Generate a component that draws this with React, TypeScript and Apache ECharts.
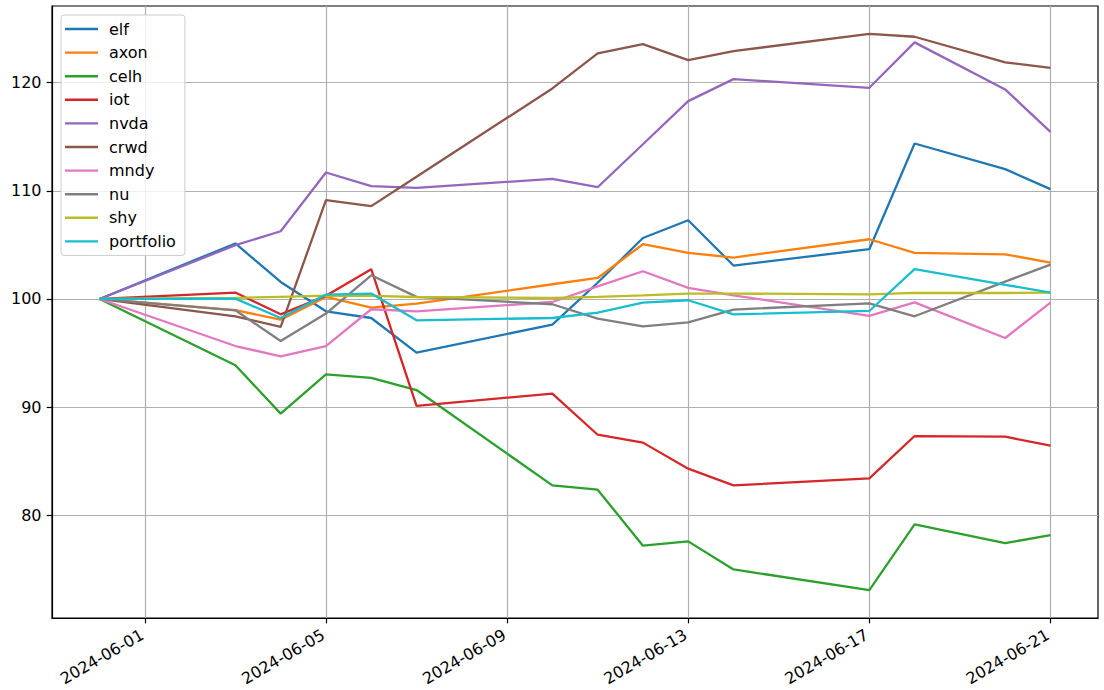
import React, { useEffect, useRef } from "react";
import * as echarts from "echarts";

const dates = [
  "2024-05-31", "2024-06-03", "2024-06-04", "2024-06-05", "2024-06-06", "2024-06-07",
  "2024-06-10", "2024-06-11", "2024-06-12", "2024-06-13", "2024-06-14",
  "2024-06-17", "2024-06-18", "2024-06-20", "2024-06-21",
];

const elf = [100, 105.13, 101.57, 98.86, 98.24, 95.04, 97.63, 101.5, 105.64, 107.28, 103.09, 104.6, 114.37, 112.0, 110.15];
const axon = [100, 98.96, 98.09, 100.19, 99.2, 99.57, 101.36, 101.94, 105.06, 104.26, 103.83, 105.52, 104.26, 104.13, 103.36];
const celh = [100, 93.87, 89.4, 93.03, 92.7, 91.58, 82.77, 82.37, 77.19, 77.59, 75.0, 73.08, 79.16, 77.43, 78.17];
const iot = [100, 100.59, 98.58, 100.3, 102.75, 90.12, 91.25, 87.45, 86.72, 84.31, 82.77, 83.41, 87.33, 87.27, 86.44];
const nvda = [100, 104.97, 106.26, 111.69, 110.43, 110.27, 111.1, 110.33, 114.3, 118.29, 120.32, 119.52, 123.72, 119.37, 115.45];
const crwd = [100, 98.4, 97.41, 109.13, 108.58, 111.3, 119.46, 122.7, 123.56, 122.08, 122.91, 124.51, 124.24, 121.87, 121.37];
const mndy = [100, 95.65, 94.7, 95.65, 99.05, 98.86, 99.72, 101.17, 102.56, 101.02, 100.34, 98.43, 99.69, 96.39, 99.67];
const nu = [100, 98.95, 96.11, 98.65, 102.19, 100.19, 99.51, 98.18, 97.47, 97.84, 99.02, 99.6, 98.4, 101.6, 103.18];
const shy = [100, 100.1, 100.2, 100.3, 100.28, 100.18, 100.09, 100.19, 100.34, 100.5, 100.5, 100.43, 100.56, 100.55, 100.59];
const portfolio = [100, 100.03, 98.24, 100.4, 100.5, 98.03, 98.24, 98.74, 99.67, 99.88, 98.58, 98.89, 102.75, 101.31, 100.59];

const seriesNames = ["elf", "axon", "celh", "iot", "nvda", "crwd", "mndy", "nu", "shy", "portfolio"];
const seriesValues = [elf, axon, celh, iot, nvda, crwd, mndy, nu, shy, portfolio];
const colors = ["#1f77b4", "#ff7f0e", "#2ca02c", "#d62728", "#9467bd", "#8c564b", "#e377c2", "#7f7f7f", "#bcbd22", "#17becf"];

const xTickLabels = ["2024-06-01", "2024-06-05", "2024-06-09", "2024-06-13", "2024-06-17", "2024-06-21"];
const yTickLabels = [80, 90, 100, 110, 120];

const FONT = "DejaVu Sans";
const FS = 16;

function toTime(s: string): number {
  const [y, m, d] = s.split("-").map(Number);
  return new Date(y, m - 1, d).getTime();
}
function pad(n: number) {
  return n < 10 ? "0" + n : "" + n;
}
function fmt(v: number): string {
  const d = new Date(v);
  return d.getFullYear() + "-" + pad(d.getMonth() + 1) + "-" + pad(d.getDate());
}

export default function App() {
  const ref = useRef<HTMLDivElement>(null);
  useEffect(() => {
    if (!ref.current) return;
    const chart = echarts.init(ref.current, undefined, { renderer: "svg" });
    const times = dates.map(toTime);
    const tMin = times[0];
    const tMax = times[times.length - 1];
    const tSpan = tMax - tMin;
    const all = seriesValues.flat();
    const vMin = Math.min(...all);
    const vMax = Math.max(...all);
    const vSpan = vMax - vMin;
    const xTicks = xTickLabels.map(toTime);

    chart.setOption({
      animation: false,
      backgroundColor: "#ffffff",
      textStyle: { fontFamily: FONT },
      grid: {
        left: 52,
        right: 6,
        top: 6,
        bottom: 72,
        show: true,
        borderColor: "#000000",
        borderWidth: 1.2,
        backgroundColor: "transparent",
      },
      legend: {
        orient: "vertical",
        left: 61,
        top: 15,
        padding: [5, 9, 5, 4],
        itemGap: 5.6,
        itemWidth: 33,
        itemHeight: 2.4,
        icon: "rect",
        backgroundColor: "rgba(255,255,255,0.8)",
        borderColor: "#cccccc",
        borderWidth: 1,
        borderRadius: 3,
        textStyle: {
          fontFamily: FONT,
          fontSize: FS,
          color: "#000000",
          lineHeight: 18,
          padding: [0, 0, 0, 6],
        },
        data: seriesNames,
      },
      xAxis: {
        type: "value",
        min: tMin - 0.05 * tSpan,
        max: tMax + 0.05 * tSpan,
        axisLine: { show: true, onZero: false, lineStyle: { color: "#000000", width: 1.2 } },
        axisTick: {
          show: true,
          inside: false,
          length: 5.3,
          lineStyle: { color: "#000000", width: 1.2 },
          customValues: xTicks,
        },
        axisLabel: {
          show: true,
          rotate: 30,
          margin: 14,
          padding: [0, 3, 0, 0],
          fontFamily: FONT,
          fontSize: FS,
          color: "#000000",
          customValues: xTicks,
          formatter: (v: number) => fmt(v),
        },
        splitLine: { show: true, lineStyle: { color: "#b0b0b0", width: 1.2 } },
      },
      yAxis: {
        type: "value",
        min: vMin - 0.05 * vSpan,
        max: vMax + 0.05 * vSpan,
        axisLine: { show: true, onZero: false, lineStyle: { color: "#000000", width: 1.2 } },
        axisTick: {
          show: true,
          inside: false,
          length: 5.3,
          lineStyle: { color: "#000000", width: 1.2 },
          customValues: yTickLabels,
        },
        axisLabel: {
          show: true,
          margin: 10.5,
          fontFamily: FONT,
          fontSize: FS,
          color: "#000000",
          customValues: yTickLabels,
          formatter: (v: number) => String(Math.round(v)),
        },
        splitLine: { show: true, lineStyle: { color: "#b0b0b0", width: 1.2 } },
      },
      series: seriesNames.map((name, i) => ({
        name,
        type: "line",
        symbol: "none",
        showSymbol: false,
        color: colors[i],
        lineStyle: { color: colors[i], width: 2.3 },
        emphasis: { disabled: true },
        data: times.map((t, j) => [t, seriesValues[i][j]]),
      })),
    });
    return () => {
      chart.dispose();
    };
  }, []);
  return (
    <div
      ref={ref}
      style={{ position: "fixed", left: 0, top: 0, width: 1104, height: 690, background: "#fff" }}
    />
  );
}
